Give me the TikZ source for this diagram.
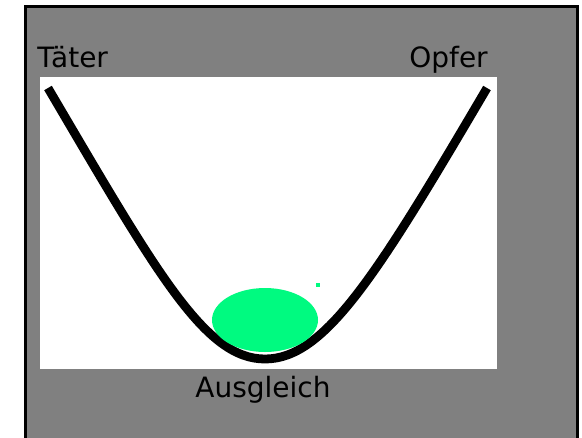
\documentclass[tikz,border=0pt]{standalone}
\usepackage{fontspec}
\setmainfont{DejaVu Sans}
\usepackage{tikz}
\usetikzlibrary{positioning}
\definecolor{frame}{RGB}{128,128,128}
\definecolor{ball}{RGB}{0,250,128}

\begin{document}
\begin{tikzpicture}[x=0.75pt,y=-0.75pt,
 lbl/.style={inner sep=0pt,font=\fontsize{21}{25}\selectfont,text=black},
 valley/.style={line width=6.6pt,draw=black,line join=round}]
\useasboundingbox (0,0) rectangle (582,437);
\begin{scope}
\clip (0,0) rectangle (582,437);
\draw[line width=2.3pt,fill=frame] (25.5,6.5) rectangle (577.5,445);
\end{scope}
\fill[white] (40,77) rectangle (497,369);
% Mulde
\draw[valley] (48,88) .. controls (158,275) and (205,359) .. (265,359)
 .. controls (325,359) and (377,275) .. (487,88);
\fill[ball] (265,320) ellipse [x radius=53,y radius=32];
\fill[ball] (316,283) rectangle (320,287);
\node[lbl,anchor=base west] (taeter) at (37,67) {Täter};
\node[lbl,anchor=base east] (opfer) at (488,67) {Opfer};
\node[lbl,anchor=base] (ausgleich) at (263,397) {Ausgleich};
\end{tikzpicture}
\end{document}
